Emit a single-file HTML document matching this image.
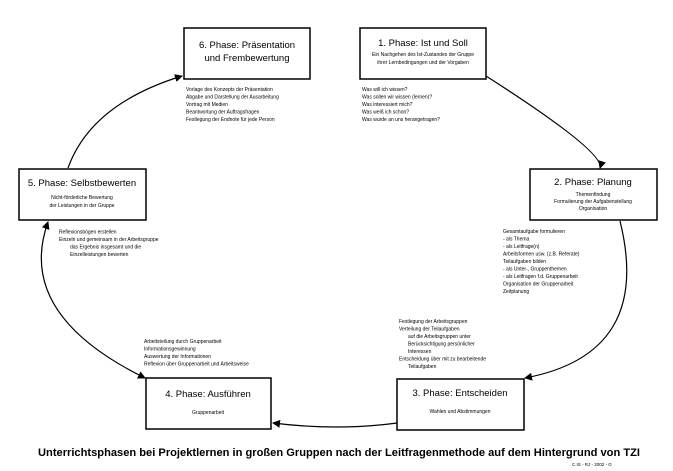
<!DOCTYPE html>
<html><head><meta charset="utf-8"><style>
html,body{margin:0;padding:0;background:#fff;}
svg{display:block;}
text{font-family:"Liberation Sans",sans-serif;fill:#000;}
.t{font-size:9.5px;}
.s{font-size:5px;}
</style></head><body>
<svg width="673" height="471" viewBox="0 0 673 471" xmlns="http://www.w3.org/2000/svg">
<defs>
<marker id="a" markerWidth="8" markerHeight="8" refX="7" refY="4" orient="auto-start-reverse" markerUnits="userSpaceOnUse">
<path d="M0,0 L8,4 L0,8 z" fill="#000"/></marker>
</defs>
<g fill="none" stroke="#000" stroke-width="1.2">
<path d="M486,76 Q605,152 600,168" marker-end="url(#a)"/>
<path d="M620,221 Q653,354 525,378" marker-end="url(#a)"/>
<path d="M397,423 Q337,431 273,423" marker-end="url(#a)"/>
<path d="M48,222 Q15,314 145,378" marker-start="url(#a)" marker-end="url(#a)"/>
<path d="M68,168 Q91,104 182,76" marker-end="url(#a)"/>
</g>
<g fill="#fff" stroke="#000" stroke-width="1.5">
<rect x="184" y="28" width="126" height="51"/>
<rect x="360" y="28" width="126" height="51"/>
<rect x="19" y="169" width="127" height="51"/>
<rect x="530" y="169" width="127" height="51"/>
<rect x="146" y="378" width="125" height="51"/>
<rect x="397" y="379" width="127" height="51"/>
</g>
<g class="t" text-anchor="middle">
<text x="247" y="48">6. Phase: Präsentation</text>
<text x="247" y="61">und Frembewertung</text>
<text x="423" y="46">1. Phase: Ist und Soll</text>
<text x="82" y="186">5. Phase: Selbstbewerten</text>
<text x="593" y="185">2. Phase: Planung</text>
<text x="208" y="397">4. Phase: Ausführen</text>
<text x="460" y="396">3. Phase: Entscheiden</text>
</g>
<g class="s" text-anchor="middle">
<text x="423" y="56">Ein Nachgehen des Ist-Zustandes der Gruppe</text>
<text x="423" y="64">ihrer Lernbedingungen und der Vorgaben</text>
<text x="82" y="199">Nicht-förderliche Bewertung</text>
<text x="82" y="207">der Leistungen in der Gruppe</text>
<text x="593" y="196">Themenfindung</text>
<text x="593" y="203">Formulierung der Aufgabenstellung</text>
<text x="593" y="210">Organisation</text>
<text x="208" y="414">Gruppenarbeit</text>
<text x="460" y="413">Wahlen und Abstimmungen</text>
</g>
<g class="s">
<text x="186" y="91">Vorlage des Konzepts der Präsentation</text>
<text x="186" y="98.5">Abgabe und Darstellung der Ausarbeitung</text>
<text x="186" y="106">Vortrag mit Medien</text>
<text x="186" y="113.5">Beantwortung der Auftragsfragen</text>
<text x="186" y="121">Festlegung der Endnote für jede Person</text>

<text x="362" y="91">Was will ich wissen?</text>
<text x="362" y="98.5">Was sollen wir wissen (lernen)?</text>
<text x="362" y="106">Was interessiert mich?</text>
<text x="362" y="113.5">Was weiß ich schon?</text>
<text x="362" y="121">Was wurde an uns herangetragen?</text>

<text x="59" y="233.5">Reflexionsbögen erstellen</text>
<text x="59" y="241">Einzeln und gemeinsam in der Arbeitsgruppe</text>
<text x="70" y="248.5">das Ergebnis insgesamt und die</text>
<text x="70" y="256">Einzelleistungen bewerten</text>

<text x="503" y="233">Gesamtaufgabe formulieren</text>
<text x="503" y="240.5">- als Thema</text>
<text x="503" y="248">- als Leitfrage(n)</text>
<text x="503" y="255.5">Arbeitsformen usw. (z.B. Referate)</text>
<text x="503" y="263">Teilaufgaben bilden</text>
<text x="503" y="270.5">- als Unter-, Gruppenthemen</text>
<text x="503" y="278">- als Leitfragen f.d. Gruppenarbeit</text>
<text x="503" y="285.5">Organisation der Gruppenarbeit</text>
<text x="503" y="293">Zeitplanung</text>

<text x="399" y="323">Festlegung der Arbeitsgruppen</text>
<text x="399" y="330.5">Verteilung der Teilaufgaben</text>
<text x="408" y="338">auf die Arbeitsgruppen unter</text>
<text x="408" y="345.5">Berücksichtigung persönlicher</text>
<text x="408" y="353">Interessen</text>
<text x="399" y="360.5">Entscheidung über mit zu bearbeitende</text>
<text x="408" y="368">Teilaufgaben</text>

<text x="144" y="343">Arbeitsteilung durch Gruppenarbeit</text>
<text x="144" y="350.5">Informationsgewinnung</text>
<text x="144" y="358">Auswertung der Informationen</text>
<text x="144" y="365.5">Reflexion über Gruppenarbeit und Arbeitsweise</text>

<text x="572" y="466" font-size="4.5">C.IS - RJ - 2002 - G</text>
</g>
<text x="38" y="456" font-size="11" font-weight="bold" textLength="602" lengthAdjust="spacingAndGlyphs">Unterrichtsphasen bei Projektlernen in großen Gruppen nach der Leitfragenmethode auf dem Hintergrund von TZI</text>
</svg>
</body></html>
